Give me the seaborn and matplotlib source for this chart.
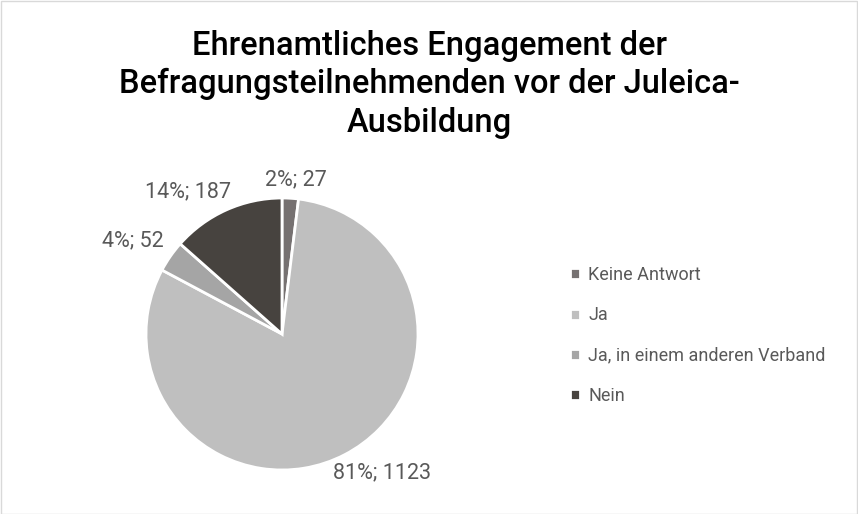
import numpy as np
import seaborn as sns
import matplotlib.pyplot as plt
from matplotlib.patches import Rectangle

categories = ["Keine Antwort", "Ja", "Ja, in einem anderen Verband", "Nein"]
counts = [27, 1123, 52, 187]
percent_labels = ["2%", "81%", "4%", "14%"]
title = "Ehrenamtliches Engagement der\nBefragungsteilnehmenden vor der Juleica-\nAusbildung"

sns.set_theme(style="white")
plt.rcParams["font.family"] = ["Roboto", "DejaVu Sans"]

colors = sns.color_palette(["#767171", "#BFBFBF", "#A5A5A5", "#47433F"])

W, H = 858, 514
fig = plt.figure(figsize=(W / 100, H / 100), dpi=100)
fig.patch.set_facecolor("white")

cx, cy, r = 282, 334, 136
ax = fig.add_axes([(cx - r) / W, (H - cy - r) / H, 2 * r / W, 2 * r / H])
wedges, _ = ax.pie(counts, colors=colors, startangle=90, counterclock=False,
                   radius=1, wedgeprops=dict(edgecolor="white", linewidth=2))
ax.set_xlim(-1, 1)
ax.set_ylim(-1, 1)
ax.set_aspect("equal")
ax.axis("off")

for w, pct, n in zip(wedges, percent_labels, counts):
    mid = np.deg2rad((w.theta1 + w.theta2) / 2)
    x, y = 1.06 * np.cos(mid), 1.06 * np.sin(mid)
    if abs(x) < 0.2 or y < -0.5:
        ha = "center"
        x += 0.04 if y > 0 else 0.25
    else:
        ha = "left" if x > 0 else "right"
        if y > 0.8:
            x += 0.06
    va = "bottom" if y > 0 else "top"
    ax.text(x, y, f"{pct}; {n}", ha=ha, va=va, fontsize=15.5,
            color="#595959", clip_on=False)

fig.text(0.5, 1 - 30 / H, title, ha="center", va="top", fontsize=23.5,
         fontweight="medium", color="#000000", linespacing=1.25)

leg = fig.legend(wedges, categories, loc="upper left",
                 bbox_to_anchor=(554 / W, 1 - 250 / H), frameon=False,
                 handlelength=0.55, handleheight=0.55, handletextpad=0.45,
                 labelspacing=1.23, prop=dict(size=13))
for t in leg.get_texts():
    t.set_color("#595959")

fig.patches.append(Rectangle((0.5 / W, 0.5 / H), 1 - 1.5 / W, 1 - 1.5 / H,
                             transform=fig.transFigure, fill=False,
                             edgecolor="#D9D9D9", linewidth=1))

fig.savefig("out.png", dpi=100)
